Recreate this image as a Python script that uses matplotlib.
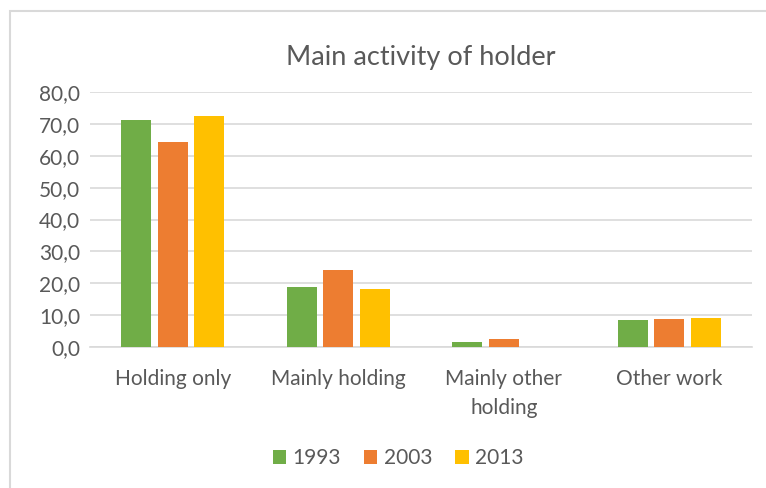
import numpy as np
import matplotlib.pyplot as plt
from matplotlib.patches import Rectangle

categories = ["Holding only", "Mainly holding", "Mainly other\nholding", "Other work"]
years = ["1993", "2003", "2013"]
values_1993 = [71.2, 18.8, 1.6, 8.4]
values_2003 = [64.4, 24.3, 2.4, 8.7]
values_2013 = [72.6, 18.1, 0.0, 9.0]
colors = ["#70AD47", "#ED7D31", "#FFC000"]

text_color = "#595959"
plt.rcParams["font.family"] = ["Lato", "DejaVu Sans"]

fig = plt.figure(figsize=(7.66, 4.88), dpi=100)
ax = fig.add_axes([90 / 766, 1 - 347 / 488, 662 / 766, 255 / 488])

# chart frame (cropped on right and bottom)
fig.patches.append(Rectangle((10 / 766, -0.1), 1.2, 1 - 11 / 488 + 0.1,
                             transform=fig.transFigure, fill=False,
                             edgecolor="#D9D9D9", linewidth=1.5))

x = np.arange(len(categories))
w = 0.18
gap = 0.04
for i, (vals, year) in enumerate(zip([values_1993, values_2003, values_2013], years)):
    ax.bar(x + (i - 1) * (w + gap), vals, width=w, color=colors[i], label=year, zorder=3)

ax.set_xlim(-0.5, len(categories) - 0.5)
ax.set_ylim(0, 80)
ax.set_yticks(np.arange(0, 81, 10))
ax.set_yticklabels([f"{v:.1f}".replace(".", ",") for v in np.arange(0, 81, 10)])
ax.yaxis.grid(True, color="#D9D9D9", linewidth=1.2, zorder=0)
ax.set_axisbelow(True)
for s in ax.spines.values():
    s.set_visible(False)
ax.spines["bottom"].set_visible(True)
ax.spines["bottom"].set_color("#D9D9D9")
ax.spines["bottom"].set_linewidth(1.2)
ax.tick_params(axis="both", length=0, colors=text_color, labelsize=15)
ax.tick_params(axis="y", pad=7)
ax.tick_params(axis="x", pad=16)
ax.set_xticks(x)
ax.set_xticklabels(categories, linespacing=1.55)

fig.text(421 / 766, 1 - 58 / 488, "Main activity of holder", ha="center", va="center",
         fontsize=19.5, color=text_color)

fig.legend(loc="center", bbox_to_anchor=(398 / 766, 1 - 458 / 488), ncol=3,
           frameon=False, fontsize=15, labelcolor=text_color,
           handlelength=0.65, handleheight=0.65, handletextpad=0.3, columnspacing=1.1)

fig.savefig("out.png", dpi=100, facecolor="white")
